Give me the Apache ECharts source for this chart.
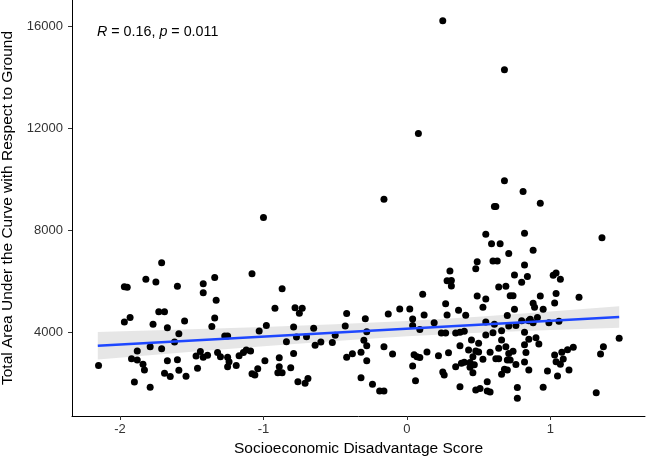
<!DOCTYPE html>
<html>
<head>
<meta charset="utf-8">
<script src="https://cdn.jsdelivr.net/npm/echarts@6/dist/echarts.min.js"></script>
<style>
html,body{margin:0;padding:0;background:#fff;}
#chart{width:647px;height:459px;}
</style>
</head>
<body>
<div id="chart"></div>
<script>
// Socioeconomic Disadvantage Score (x)
const sesScore = [
-1.71,-1.97,-1.95,-1.82,-1.75,-1.60,-1.42,-1.34,-1.42,-1.08,-1.33,-1.73,-1.69,-1.93,-1.97,-1.77,-1.67,-1.55,-1.34,-1.36,
-1.59,-1.03,-1.88,-1.79,-1.71,-1.62,-1.27,-1.25,-2.15,-1.92,-1.88,-1.84,-1.83,-1.67,-1.60,-1.69,-1.65,-1.59,-1.54,-1.90,
-1.79,-1.47,-1.44,-1.42,-1.39,-1.46,-1.32,-1.30,-1.25,-1.24,-1.25,-1.19,-1.17,-1.14,-1.12,-1.09,-1.08,-1.06,-1.04,-1.00,
-0.16,-0.87,-0.92,-0.78,-0.73,-0.75,-0.98,-0.79,-0.77,-0.70,-0.65,-0.84,-0.52,-0.50,-0.43,-0.42,-0.29,-0.28,-0.13,-0.05,
0.02,0.04,0.04,-0.64,-0.60,-0.30,-0.28,-0.79,-0.89,-0.99,-0.89,-0.90,-0.87,-0.81,-0.76,-0.69,-0.71,-0.42,-0.38,-0.32,
-0.28,-0.32,-0.24,-0.19,-0.16,-0.16,-0.10,0.05,0.07,0.04,0.06,0.09,0.25,0.68,0.08,0.68,0.81,0.61,0.62,0.55,
0.59,0.65,0.82,0.71,0.88,0.49,0.48,0.60,0.63,0.82,0.30,0.28,0.31,0.31,0.75,0.84,0.80,0.64,0.69,0.11,
0.49,0.55,0.53,0.72,0.74,0.93,0.12,0.27,0.28,0.36,0.41,0.09,0.19,0.24,0.27,0.34,0.37,0.40,0.55,0.61,
0.70,0.71,0.75,0.80,0.85,0.82,0.82,0.82,0.14,0.22,0.29,0.37,0.45,0.50,0.55,0.60,0.43,0.50,0.58,0.62,
0.64,0.66,0.64,0.69,0.71,0.74,0.70,0.72,0.76,0.34,0.38,0.40,0.44,0.46,0.47,0.44,0.46,0.25,0.26,0.53,
0.68,0.70,0.66,0.56,0.58,0.56,0.48,0.51,0.37,0.77,0.77,0.93,0.88,0.89,0.95,0.91,0.88,0.90,0.66,0.83,
0.85,0.48,1.02,1.04,1.07,1.36,1.04,1.03,1.20,0.99,1.06,0.85,0.92,1.03,1.08,1.04,1.07,1.12,1.16,1.09,
1.13,0.98,1.05,0.95,1.37,1.35,1.48,1.32,0.86,0.76
];
// Total Area Under the Curve with Respect to Ground (y)
const aucg = [
6740,5800,5780,6090,5990,5820,5920,6160,5560,6310,5270,4820,4820,4600,4420,4330,4190,4460,4580,4240,
3960,4070,3280,3450,3370,3640,3870,3870,2720,2980,2930,2760,2540,2900,2940,2410,2280,2530,2290,2070,
1860,3090,3260,3040,3120,2610,3220,3060,3040,2860,2670,2720,3100,3220,3320,3280,2390,2340,2590,8510,
9230,5720,4960,4980,4960,4760,4280,4220,3830,3840,4170,3650,3620,3900,4260,4750,4550,4040,4730,4930,
4930,4540,4280,3510,3640,3700,3490,3190,3020,2900,2670,2430,2430,2630,2080,2210,2020,3040,3180,3230,
2900,2240,1980,1720,1720,3450,3170,3140,3060,2700,2120,3030,16220,14300,11800,9950,9530,8940,8940,7860,
7480,7480,7900,7100,7230,6780,6500,6810,6810,6650,6420,6030,6040,5830,6260,6200,5980,5790,5820,5510,
5440,5320,5000,5450,5450,9070,4690,5130,4690,4880,4680,4130,4390,3990,3990,3990,4020,4060,4420,4330,
4670,4260,4920,4470,4470,4020,3530,2850,3240,3100,3210,3490,3710,3590,3910,4000,3320,3240,3230,2980,
2980,3710,3390,3450,3190,3270,2930,2930,2750,2670,2800,2840,2830,3060,2740,2650,2430,2460,2340,2960,
2570,2540,2370,2080,1680,1720,1760,1810,1880,1850,1430,5440,5150,5000,4920,4600,4390,3800,4080,3220,
2540,3280,6250,6340,6090,7720,5540,5160,5390,4390,4450,3740,3560,3130,3230,2860,2760,3330,3430,2970,
2540,2500,2300,1860,3450,3170,3780,1650,4530,4280
];
// Linear fit and its confidence band
const fitX = [-2.155, 1.48];
const fitY = [3490, 4615];
const bandX = [-2.155, -1.5, -1.0, -0.5, 0.0, 0.5, 1.0, 1.48];
const bandUpper = [4025, 4133, 4227, 4332, 4457, 4622, 4826, 5040];
const bandLower = [2955, 3253, 3467, 3672, 3857, 4002, 4106, 4190];
// Tick labels
const xTicks = [-2, -1, 0, 1];
const yTicks = [4000, 8000, 12000, 16000];

const points = sesScore.map((x, i) => [x, aucg[i]]);
const fitLine = fitX.map((x, i) => [x, fitY[i]]);

const FONT = 'Liberation Sans, Arial, sans-serif';
const chart = echarts.init(document.getElementById('chart'), null, {renderer: 'canvas'});
chart.setOption({
  animation: false,
  backgroundColor: '#ffffff',
  grid: {left: 72, right: 2, top: 0, bottom: 43, outerBoundsMode: 'none', containLabel: false},
  xAxis: {
    type: 'value', min: -2.335, max: 1.66,
    name: 'Socioeconomic Disadvantage Score', nameLocation: 'middle', nameGap: 24,
    nameTextStyle: {fontFamily: FONT, fontSize: 15.5, color: '#000'},
    axisLine: {show: true, onZero: false, lineStyle: {color: '#000', width: 1}},
    axisTick: {show: true, length: 4, customValues: xTicks, lineStyle: {color: '#333', width: 1}},
    axisLabel: {customValues: xTicks, fontFamily: FONT, fontSize: 13, color: '#333', margin: 7,
      formatter: v => String(v)},
    splitLine: {show: false}
  },
  yAxis: {
    type: 'value', min: 737, max: 17032,
    name: 'Total Area Under the Curve with Respect to Ground', nameLocation: 'middle', nameGap: 52,
    nameTextStyle: {fontFamily: FONT, fontSize: 15.5, color: '#000'},
    axisLine: {show: true, onZero: false, lineStyle: {color: '#000', width: 1}},
    axisTick: {show: true, length: 4, customValues: yTicks, lineStyle: {color: '#333', width: 1}},
    axisLabel: {customValues: yTicks, fontFamily: FONT, fontSize: 13, color: '#333', margin: 9,
      formatter: v => String(v)},
    splitLine: {show: false}
  },
  graphic: [{
    type: 'text', x: 97, y: 32,
    style: {
      text: '{i|R} = 0.16, {i|p} = 0.011',
      fontFamily: FONT, fontSize: 14.3, fill: '#000', verticalAlign: 'middle',
      rich: {i: {fontStyle: 'italic', fontFamily: FONT, fontSize: 14.3, fill: '#000'}}
    }
  }],
  series: [
    {
      type: 'scatter', data: points, symbol: 'circle', symbolSize: 7,
      itemStyle: {color: '#000', opacity: 1}, silent: true
    },
    {
      type: 'custom', data: [[bandX[0], bandLower[0]]], silent: true,
      renderItem: function (params, api) {
        const pts = [];
        for (let i = 0; i < bandX.length; i++) pts.push(api.coord([bandX[i], bandUpper[i]]));
        for (let i = bandX.length - 1; i >= 0; i--) pts.push(api.coord([bandX[i], bandLower[i]]));
        return {type: 'polygon', shape: {points: pts}, style: {fill: 'rgba(205,205,205,0.5)', stroke: null}};
      }
    },
    {
      type: 'line', data: fitLine, showSymbol: false, silent: true,
      lineStyle: {color: '#1E47FF', width: 2.5}
    }
  ]
});
</script>
</body>
</html>
